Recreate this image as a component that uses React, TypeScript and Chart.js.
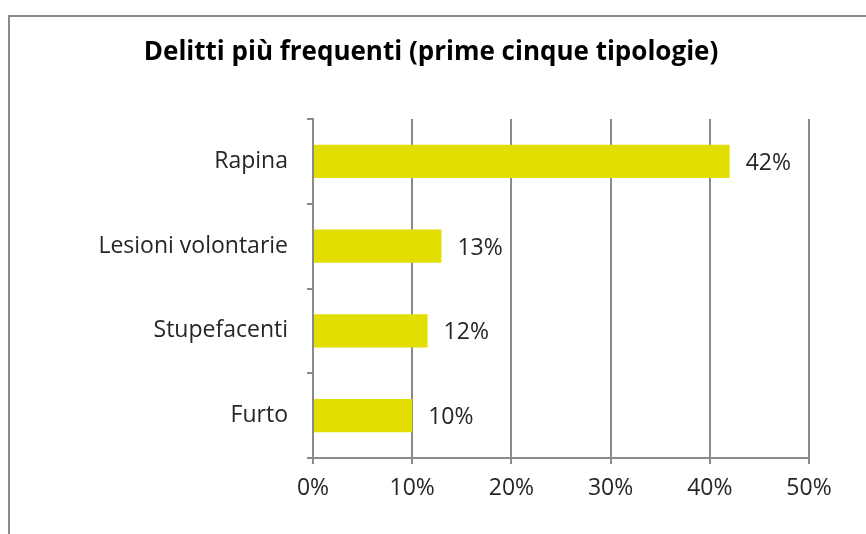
import React, { useEffect, useRef } from "react";
import { Chart, registerables } from "chart.js";

Chart.register(...registerables);

const categories: string[] = ["Rapina", "Lesioni volontarie", "Stupefacenti", "Furto"];
const values: number[] = [42.0, 12.95, 11.55, 10.0];
const valueLabels: string[] = ["42%", "13%", "12%", "10%"];
const xTicks: number[] = [0, 10, 20, 30, 40, 50];
const titleText = "Delitti più frequenti (prime cinque tipologie)";

const FONT = "'Open Sans', 'Noto Sans', sans-serif";
const TEXT = "#262626";
const GRID = "#8a8a8a";

const labelPlugin = {
  id: "barValueLabels",
  afterDatasetsDraw(chart: any) {
    const ctx = chart.ctx;
    const meta = chart.getDatasetMeta(0);
    ctx.save();
    ctx.font = `23px ${FONT}`;
    ctx.fillStyle = TEXT;
    ctx.textAlign = "left";
    ctx.textBaseline = "middle";
    meta.data.forEach((bar: any, i: number) => {
      ctx.fillText(valueLabels[i], bar.x + 16, bar.y + 2);
    });
    ctx.restore();
  },
};

const titlePlugin = {
  id: "centeredTitle",
  afterDraw(chart: any) {
    const ctx = chart.ctx;
    ctx.save();
    ctx.font = `bold 26px ${FONT}`;
    ctx.fillStyle = "#000000";
    ctx.textAlign = "center";
    ctx.textBaseline = "middle";
    ctx.fillText(titleText, chart.width / 2 - 2, 53);
    ctx.restore();
  },
};

export default function App() {
  const ref = useRef<HTMLCanvasElement | null>(null);

  useEffect(() => {
    document.body.style.margin = "0";
    const canvas = ref.current;
    if (!canvas) return;
    const chart = new Chart(canvas, {
      type: "bar",
      data: {
        labels: categories,
        datasets: [
          {
            data: values,
            backgroundColor: "#E2DE00",
            borderWidth: 0,
            barPercentage: 0.39,
            categoryPercentage: 1,
          },
        ],
      },
      options: {
        indexAxis: "y",
        animation: false,
        responsive: false,
        maintainAspectRatio: false,
        layout: { padding: { left: 0, right: 57, top: 119, bottom: 0 } },
        plugins: {
          legend: { display: false },
          tooltip: { enabled: false },
          title: { display: false },
        },
        scales: {
          x: {
            type: "linear",
            min: 0,
            max: 50,
            afterBuildTicks: (scale: any) => {
              scale.ticks = xTicks.map((v) => ({ value: v }));
            },
            afterFit: (scale: any) => {
              scale.height = 76;
            },
            ticks: {
              color: TEXT,
              font: { family: FONT, size: 23 },
              padding: 11,
              callback: (v: any) => `${v}%`,
            },
            grid: {
              color: GRID,
              lineWidth: 2,
              drawTicks: true,
              tickLength: 6,
            },
            border: { color: GRID, width: 2 },
          },
          y: {
            type: "category",
            afterFit: (scale: any) => {
              scale.width = 313;
            },
            ticks: {
              color: TEXT,
              font: { family: FONT, size: 23 },
              padding: 19,
            },
            grid: {
              offset: true,
              drawOnChartArea: false,
              drawTicks: true,
              tickLength: 6,
              color: GRID,
              lineWidth: 2,
            },
            border: { color: GRID, width: 2 },
          },
        },
      },
      plugins: [labelPlugin, titlePlugin],
    });
    return () => chart.destroy();
  }, []);

  return (
    <div style={{ position: "relative", width: 866, height: 534, overflow: "hidden", background: "#ffffff" }}>
      <div
        style={{
          position: "absolute",
          left: 8,
          top: 15,
          width: 900,
          height: 600,
          borderLeft: "2px solid #8a8a8a",
          borderTop: "2px solid #8a8a8a",
          boxSizing: "border-box",
        }}
      />
      <canvas ref={ref} width={866} height={534} style={{ position: "absolute", left: 0, top: 0 }} />
    </div>
  );
}
